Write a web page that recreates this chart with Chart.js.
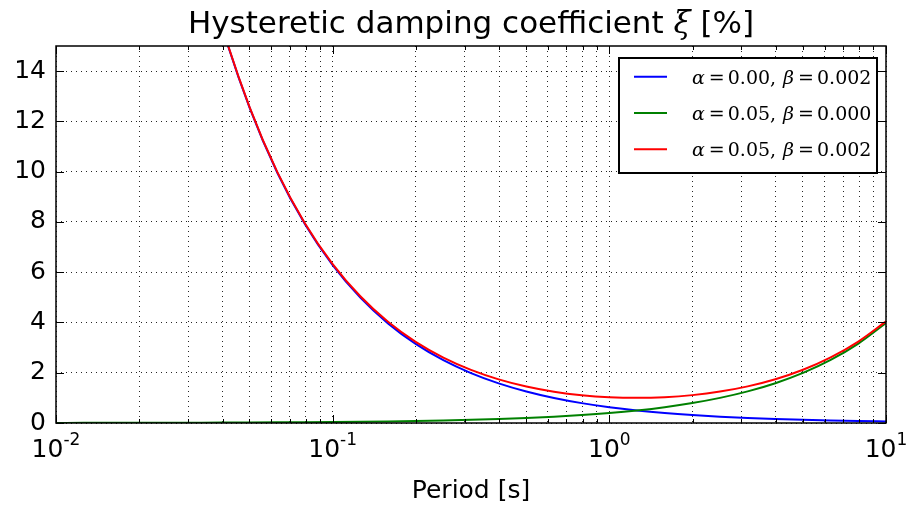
<!DOCTYPE html>
<html><head><meta charset="utf-8">
<script src="https://cdn.jsdelivr.net/npm/chart.js@4/dist/chart.umd.min.js"></script>
<style>html,body{margin:0;padding:0;background:#fff}canvas{display:block}</style>
</head><body>
<canvas id="c" width="918" height="505"></canvas>
<script>
// ---- data ----
const periods = [0.01, 0.012589, 0.015849, 0.019953, 0.025119, 0.031623, 0.039811, 0.050119, 0.063096, 0.079433,
  0.1, 0.12589, 0.15849, 0.19953, 0.25119, 0.31623, 0.39811, 0.50119, 0.63096, 0.79433,
  1, 1.2589, 1.5849, 1.9953, 2.5119, 3.1623, 3.9811, 5.0119, 6.3096, 7.9433, 10];
const blueVals = [62.83, 49.91, 39.64, 31.49, 25.01, 19.87, 15.78, 12.54, 9.958, 7.910,
  6.283, 4.991, 3.964, 3.149, 2.501, 1.987, 1.578, 1.254, 0.9958, 0.7910,
  0.6283, 0.4991, 0.3964, 0.3149, 0.2501, 0.1987, 0.1578, 0.1254, 0.0996, 0.0791, 0.0628];
const greenVals = [0.00398, 0.00501, 0.00631, 0.00794, 0.00999, 0.01258, 0.01584, 0.01994, 0.02511, 0.03161,
  0.03979, 0.05009, 0.06306, 0.07939, 0.09995, 0.1258, 0.1584, 0.1994, 0.2511, 0.3161,
  0.3979, 0.5009, 0.6306, 0.7939, 0.9995, 1.258, 1.584, 1.994, 2.511, 3.161, 3.979];
const redVals = [62.83, 49.92, 39.65, 31.50, 25.02, 19.88, 15.80, 12.56, 9.983, 7.942,
  6.323, 5.041, 4.027, 3.228, 2.601, 2.113, 1.736, 1.453, 1.247, 1.107,
  1.026, 1.000, 1.027, 1.109, 1.250, 1.457, 1.742, 2.119, 2.611, 3.240, 4.042];
const alphaLabels = ['0.00', '0.05', '0.05'];
const betaLabels = ['0.002', '0.000', '0.002'];
const yTickValues = [0, 2, 4, 6, 8, 10, 12, 14];
const xMajorValues = [0.01, 0.1, 1, 10];
const xExponents = ['-2', '-1', '0', '1'];
const xMinorMultipliers = [2, 3, 4, 5, 6, 7, 8, 9];
const titleMain = 'Hysteretic damping coefficient ';
const titleSymbol = 'ξ';
const titleTail = ' [%]';
const xAxisTitle = 'Period [s]';

// ---- styles ----
const seriesColors = ['#0000ff', '#008000', '#ff0000'];
const gridColor = 'rgba(0,0,0,0.85)';

const xGridValues = [];
xMajorValues.forEach((b, i) => {
  xGridValues.push(b);
  if (i < xMajorValues.length - 1) xMinorMultipliers.forEach(m => xGridValues.push(+(b * m).toPrecision(6)));
});

const allVals = [blueVals, greenVals, redVals];

const decor = {
  id: 'decor',
  beforeDraw(chart) {
    const c = chart.ctx;
    c.save(); c.fillStyle = '#fff'; c.fillRect(0, 0, chart.width, chart.height); c.restore();
  },
  afterDraw(chart) {
    const c = chart.ctx, a = chart.chartArea, xs = chart.scales.x, ys = chart.scales.y;
    c.save();
    // frame
    c.strokeStyle = '#000'; c.lineWidth = 1.5;
    c.strokeRect(a.left, a.top, a.right - a.left, a.bottom - a.top);
    // ticks
    c.lineWidth = 1;
    c.beginPath();
    xGridValues.forEach(v => {
      const px = Math.round(xs.getPixelForValue(v)) + 0.5;
      const len = xMajorValues.includes(v) ? 8 : 4;
      c.moveTo(px, a.bottom); c.lineTo(px, a.bottom - len);
      c.moveTo(px, a.top); c.lineTo(px, a.top + len);
    });
    yTickValues.forEach(v => {
      const py = Math.round(ys.getPixelForValue(v)) + 0.5;
      c.moveTo(a.left, py); c.lineTo(a.left + 8, py);
      c.moveTo(a.right, py); c.lineTo(a.right - 8, py);
    });
    c.stroke();

    // x tick labels 10^n
    c.fillStyle = '#000';
    c.textBaseline = 'alphabetic';
    c.textAlign = 'left';
    xMajorValues.forEach((v, i) => {
      const px = xs.getPixelForValue(v);
      c.font = '25px "DejaVu Sans"';
      const wb = c.measureText('10').width;
      c.font = '17px "DejaVu Sans"';
      const we = c.measureText(xExponents[i]).width;
      const x0 = px - (wb + we) / 2;
      c.font = '25px "DejaVu Sans"';
      c.fillText('10', x0, a.bottom + 34);
      c.font = '17px "DejaVu Sans"';
      c.fillText(xExponents[i], x0 + wb, a.bottom + 22);
    });

    // axis title
    c.font = '25px "DejaVu Sans"';
    c.textAlign = 'center';
    c.fillText(xAxisTitle, (a.left + a.right) / 2, a.bottom + 75);

    // chart title
    c.textAlign = 'left';
    c.font = '31px "DejaVu Sans"';
    const w1 = c.measureText(titleMain).width, w3 = c.measureText(titleTail).width;
    c.font = 'italic 31px "DejaVu Serif"';
    const w2 = c.measureText(titleSymbol).width;
    let tx = (a.left + a.right) / 2 - (w1 + w2 + w3) / 2;
    c.font = '31px "DejaVu Sans"'; c.fillText(titleMain, tx, a.top - 13);
    c.font = 'italic 31px "DejaVu Serif"'; c.fillText(titleSymbol, tx + w1, a.top - 13);
    c.font = '31px "DejaVu Sans"'; c.fillText(titleTail, tx + w1 + w2, a.top - 13);

    // legend
    const bl = a.right - 267, bt = a.top + 12, br = a.right - 9, bb = a.top + 127;
    c.fillStyle = '#fff';
    c.fillRect(bl, bt, br - bl, bb - bt);
    c.strokeStyle = '#000'; c.lineWidth = 2;
    c.strokeRect(bl, bt, br - bl, bb - bt);
    const rowGap = 36.3;
    alphaLabels.forEach((al, i) => {
      const ry = bt + 18.7 + i * rowGap;
      c.strokeStyle = seriesColors[i]; c.lineWidth = 2;
      c.beginPath(); c.moveTo(bl + 15, ry); c.lineTo(bl + 48, ry); c.stroke();
      c.fillStyle = '#000';
      const parts = [
        ['italic 19px "DejaVu Serif"', 'α', 4],
        ['19px "DejaVu Serif"', '=', 3],
        ['19px "DejaVu Serif"', al + ',', 7],
        ['italic 19px "DejaVu Serif"', 'β', 4],
        ['19px "DejaVu Serif"', '=', 3],
        ['19px "DejaVu Serif"', betaLabels[i], 0]
      ];
      let x = bl + 73;
      parts.forEach(([f, t, g]) => {
        c.font = f; c.fillText(t, x, ry + 7);
        x += c.measureText(t).width + g;
      });
    });
    c.restore();
  }
};

new Chart(document.getElementById('c'), {
  type: 'line',
  data: {
    datasets: allVals.map((vals, i) => ({
      label: 'α=' + alphaLabels[i] + ', β=' + betaLabels[i],
      data: periods.map((p, k) => ({ x: p, y: vals[k] })),
      borderColor: seriesColors[i],
      borderWidth: 2,
      pointRadius: 0,
      fill: false,
      cubicInterpolationMode: 'monotone',
      order: 2 - i
    }))
  },
  options: {
    responsive: false,
    animation: false,
    devicePixelRatio: 1,
    layout: { padding: { left: 0, top: 46, right: 32, bottom: 0 } },
    plugins: { legend: { display: false }, tooltip: { enabled: false }, title: { display: false } },
    scales: {
      x: {
        type: 'logarithmic', min: 0.01, max: 10,
        afterBuildTicks: s => { s.ticks = xGridValues.map(v => ({ value: v })); },
        afterFit: s => { s.height = 82; },
        ticks: { display: false, autoSkip: false },
        grid: { color: gridColor, lineWidth: 1, drawTicks: false },
        border: { display: false, dash: [1, 4] }
      },
      y: {
        type: 'linear', min: 0, max: 15,
        afterBuildTicks: s => { s.ticks = yTickValues.map(v => ({ value: v })); },
        afterFit: s => { s.width = 56; },
        ticks: { font: { family: 'DejaVu Sans', size: 25 }, color: '#000', padding: 10, autoSkip: false },
        grid: { color: gridColor, lineWidth: 1, drawTicks: false },
        border: { display: false, dash: [1, 4] }
      }
    }
  },
  plugins: [decor]
});
</script>
</body></html>
